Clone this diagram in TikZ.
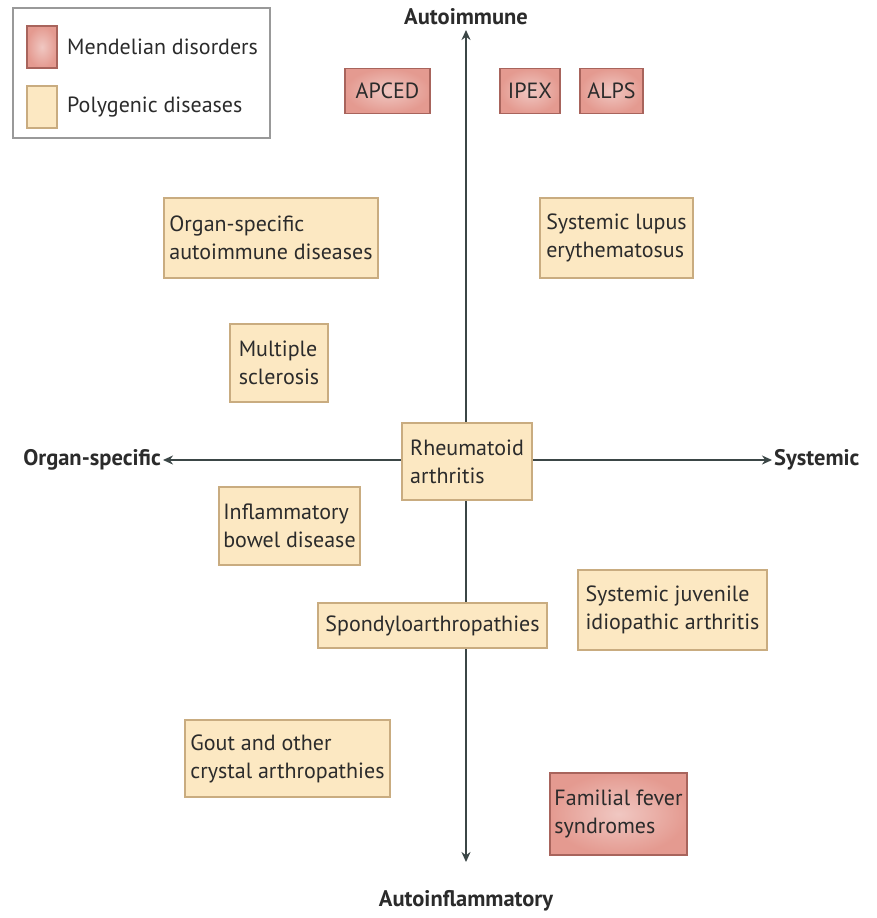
\documentclass[tikz,border=0pt]{standalone}
\usepackage{fontspec}
\setmainfont{PT Sans}
\usetikzlibrary{arrows.meta}
\definecolor{polyfill}{HTML}{FCE8C2}
\definecolor{polyline}{HTML}{C9AC80}
\definecolor{mendfill}{HTML}{E49A90}
\definecolor{mendline}{HTML}{A8645C}
\definecolor{axiscol}{HTML}{3B4646}
\definecolor{txtcol}{HTML}{2B2B2B}

\begin{document}
\begin{tikzpicture}[x=1pt,y=-1pt,
    poly/.style={draw=polyline,fill=polyfill,line width=1.2pt,align=left,inner sep=0pt,text=txtcol,font=\fontsize{22}{28}\selectfont},
    mend/.style={draw=mendline,inner color=mendfill!55!white,outer color=mendfill,line width=1.2pt,align=left,inner sep=0pt,text=txtcol,font=\fontsize{22}{28}\selectfont},
    axis/.style={draw=axiscol,line width=2.2pt,-{Stealth[length=10pt,width=9pt]}},
    axlabel/.style={font=\bfseries\fontsize{22.5}{26}\selectfont,text=txtcol}]
    \useasboundingbox (0,0) rectangle (877,918);

    % axes
    \coordinate (O) at (466,460);
    \coordinate (Top) at (466,30);
    \coordinate (Bot) at (466,862);
    \coordinate (Lft) at (163,460);
    \coordinate (Rgt) at (772,460);
    \path[axis] (O) -- (Top);
    \path[axis] (O) -- (Bot);
    \path[axis] (O) -- (Lft);
    \path[axis] (O) -- (Rgt);
    \node[axlabel] (ai) at (466,17) {Autoimmune};
    \node[axlabel] (ainf) at (466,901) {Autoinflammatory};
    \node[axlabel,anchor=east,inner sep=2pt] (os) at (Lft) {Organ-specific};
    \node[axlabel,anchor=west,inner sep=2pt] (sys) at (Rgt) {Systemic};

    % legend
    \node[draw=black!40,line width=1.2pt,minimum width=257pt,minimum height=130pt] (leg) at (141.5,73) {};
    \node[mend,minimum width=30pt,minimum height=42pt] (legm) at (42,47) {};
    \node[poly,minimum width=30pt,minimum height=42pt] (legp) at (42,107) {};
    \node[anchor=west,inner sep=0pt,text=txtcol,font=\fontsize{22}{26}\selectfont] at (67,47) {Mendelian disorders};
    \node[anchor=west,inner sep=0pt,text=txtcol,font=\fontsize{22}{26}\selectfont] at (67,107) {Polygenic diseases};

    % Mendelian disorders
    \node[mend,minimum width=85pt,minimum height=45pt] (apced) at (387.5,91) {APCED};
    \node[mend,minimum width=60pt,minimum height=45pt] (ipex) at (530,91) {IPEX};
    \node[mend,minimum width=63pt,minimum height=45pt] (alps) at (611.5,91) {ALPS};
    \node[mend,minimum width=137pt,minimum height=82pt] (ffs) at (618.5,814) {Familial fever\\syndromes};

    % polygenic diseases
    \node[poly,minimum width=214pt,minimum height=80pt] (osad) at (271,238) {Organ-specific\\autoimmune diseases};
    \node[poly,minimum width=153pt,minimum height=80pt] (sle) at (616.5,238) {Systemic lupus\\erythematosus};
    \node[poly,minimum width=98pt,minimum height=78pt] (ms) at (279,363) {Multiple\\sclerosis};
    \node[poly,minimum width=130pt,minimum height=77pt] (ra) at (467,461.5) {Rheumatoid\\arthritis};
    \node[poly,minimum width=141pt,minimum height=78pt] (ibd) at (289.5,526) {Inflammatory\\bowel disease};
    \node[poly,minimum width=229pt,minimum height=45pt] (spa) at (432.5,625.5) {Spondyloarthropathies};
    \node[poly,minimum width=189pt,minimum height=80pt] (sjia) at (672.5,610) {Systemic juvenile\\idiopathic arthritis};
    \node[poly,minimum width=205pt,minimum height=77pt] (gout) at (287.5,758.5) {Gout and other\\crystal arthropathies};
\end{tikzpicture}
\end{document}
